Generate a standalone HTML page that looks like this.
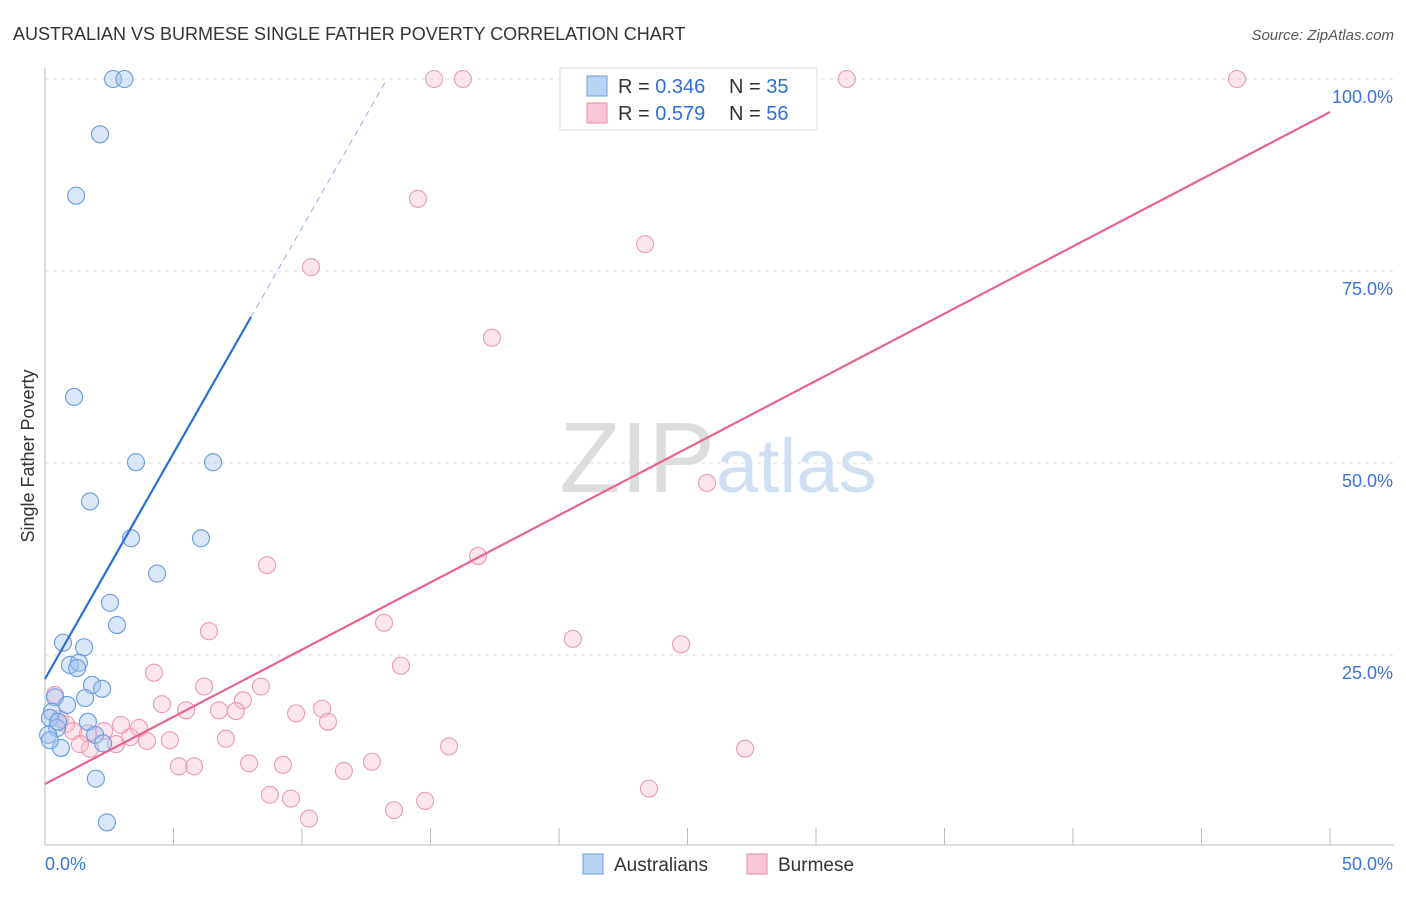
<!DOCTYPE html>
<html><head><meta charset="utf-8"><style>
body{margin:0;background:#fff;font-family:"Liberation Sans",sans-serif}
svg text{font-family:"Liberation Sans",sans-serif}
</style></head><body>
<svg id="chart" width="1406" height="892">
<text x="13" y="40" font-size="18" fill="#333">AUSTRALIAN VS BURMESE SINGLE FATHER POVERTY CORRELATION CHART</text>
<text x="1394" y="40" font-size="15" fill="#555" font-style="italic" text-anchor="end">Source: ZipAtlas.com</text>
<text x="34" y="456" font-size="18" fill="#333" transform="rotate(-90 34 456)" text-anchor="middle">Single Father Poverty</text>
<text x="715" y="492" font-size="100" fill="#ddd" text-anchor="end" font-family="Liberation Serif">ZIP</text>
<text x="716" y="492" font-size="76" fill="#cfe0f3">atlas</text>
<g id="grid"></g><g id="axes"></g><g id="pts"></g><g id="lines"></g>
<g>
<rect x="560" y="68" width="257" height="62" fill="#fff" stroke="#ddd"/>
<rect x="587" y="76" width="20" height="20" fill="#b9d3f5" stroke="#6d9de0"/>
<rect x="587" y="103" width="20" height="20" fill="#f8c6d4" stroke="#e98aa6"/>
<text x="618" y="93" font-size="20" fill="#333">R = <tspan fill="#2f6fd4">0.346</tspan></text>
<text x="729" y="93" font-size="20" fill="#333">N = <tspan fill="#2f6fd4">35</tspan></text>
<text x="618" y="120" font-size="20" fill="#333">R = <tspan fill="#2f6fd4">0.579</tspan></text>
<text x="729" y="120" font-size="20" fill="#333">N = <tspan fill="#2f6fd4">56</tspan></text>
</g>
<g>
<rect x="583" y="854" width="20" height="20" fill="#b9d3f5" stroke="#6d9de0"/>
<text x="614" y="871" font-size="19" fill="#333">Australians</text>
<rect x="747" y="854" width="20" height="20" fill="#f8c6d4" stroke="#e98aa6"/>
<text x="778" y="871" font-size="19" fill="#333">Burmese</text>
</g>
</svg>
<script>
const xTicks=[0,5,10,15,20,25,30,35,40,45,50];
const yTicks=[25,50,75,100];
const ausX=[2.65,3.09,2.14,1.21,1.13,3.54,6.54,1.75,3.35,6.07,4.36,2.53,2.8,0.7,1.52,0.97,1.32,1.25,1.83,2.22,1.56,0.39,0.86,0.27,0.19,1.67,0.47,0.12,1.95,2.26,0.62,0.19,1.98,2.41,0.51];
const ausY=[100,100,92.8,84.8,58.6,50.1,50.1,45,40.2,40.2,35.6,31.8,28.9,26.6,26,23.7,24,23.3,21.1,20.6,19.4,19.5,18.5,17.6,16.8,16.3,15.5,14.6,14.6,13.5,12.9,13.9,8.9,3.2,16.3];
const burX=[15.14,16.26,31.2,46.38,14.51,23.35,10.35,17.39,25.76,16.85,8.64,6.38,20.54,13.19,24.75,4.24,13.85,4.55,6.19,8.4,7.7,5.49,6.77,7.43,9.77,10.78,11.01,2.96,3.66,3.97,4.86,2.3,7.04,2.76,1.67,0.82,0.58,1.09,3.31,15.72,27.24,5.21,5.8,7.94,9.26,12.72,11.63,8.75,9.57,14.79,13.58,10.27,23.5,0.39,1.75,1.36];
const burY=[100,100,100,100,84.4,78.5,75.5,66.3,47.4,37.9,36.7,28.1,27.1,29.2,26.4,22.7,23.6,18.6,20.9,20.9,19.1,17.8,17.8,17.7,17.4,18,16.3,15.9,15.5,13.8,13.9,15.1,14.1,13.4,14.8,16,16.7,15.1,14.3,13.1,12.8,10.5,10.5,10.9,10.7,11.1,9.9,6.8,6.3,6.0,4.8,3.7,7.6,19.8,12.8,13.4];
const X=v=>45+v/50*1285, Y=v=>847-v/100*768;
const NS="http://www.w3.org/2000/svg";
function mk(tag,attrs,parent){const e=document.createElementNS(NS,tag);for(const k in attrs)e.setAttribute(k,attrs[k]);document.getElementById(parent).appendChild(e);return e;}
yTicks.forEach(t=>{
 const l=mk('line',{x1:45,x2:1394,y1:Y(t),y2:Y(t),stroke:'#ddd','stroke-dasharray':'4,4'},'grid');
 
 
 const tx=mk('text',{x:1393,y:Y(t)+24,'font-size':18,fill:'#3a74d4','text-anchor':'end'},'axes');
 tx.textContent=t.toFixed(1)+'%';
 
 
});
const ax=mk('line',{x1:45,x2:1394,y1:845,y2:845,stroke:'#bbb'},'axes');


const ay=mk('line',{x1:45,x2:45,y1:68,y2:845,stroke:'#bbb'},'axes');


xTicks.forEach(t=>{
 const l=mk('line',{x1:X(t),x2:X(t),y1:828,y2:845,stroke:'#bbb'},'axes');
 
 
});
[[0,45,'start'],[50,1393,'end']].forEach(([v,x,a])=>{
 const tx=mk('text',{x:x,y:870,'font-size':18,fill:'#3a74d4','text-anchor':a},'axes');
 tx.textContent=v.toFixed(1)+'%';
 
 
});
burX.forEach((v,i)=>{
 const c=mk('circle',{cx:X(v),cy:Y(burY[i]),r:8.5,fill:'rgba(248,180,200,0.35)',stroke:'#eb9ab2','stroke-width':1.1},'pts');
 
 
});
ausX.forEach((v,i)=>{
 const c=mk('circle',{cx:X(v),cy:Y(ausY[i]),r:8.5,fill:'rgba(160,196,240,0.4)',stroke:'#6a9ade','stroke-width':1.1},'pts');
 
 
});
const t1=mk('line',{x1:45,y1:679,x2:251,y2:317,stroke:'#2a6fd6','stroke-width':2.2},'lines');


const t2=mk('line',{x1:251,y1:317,x2:387,y2:79,stroke:'#8fb2e6','stroke-width':1,'stroke-dasharray':'6,5'},'lines');


const t3=mk('line',{x1:45,y1:784,x2:1330,y2:112,stroke:'#e8648e','stroke-width':2.2},'lines');


</script>
</body></html>
